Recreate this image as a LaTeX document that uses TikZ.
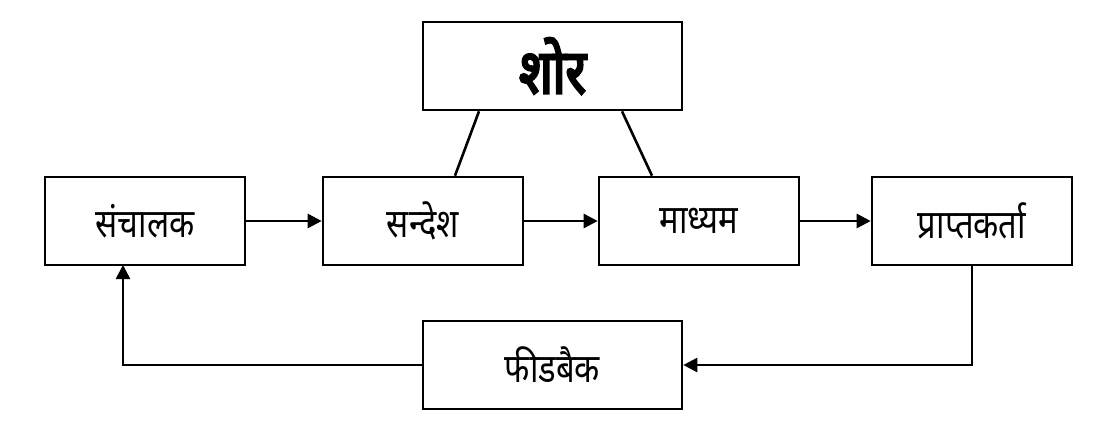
\documentclass[tikz,border=0pt]{standalone}
\usepackage{fontspec}
\newfontfamily\dev[Script=Devanagari,FakeStretch=0.82]{Noto Sans}
\newfontfamily\devb[Script=Devanagari,FakeStretch=0.8,FakeBold=4]{Noto Sans}
\usetikzlibrary{arrows.meta}
\begin{document}
\begin{tikzpicture}[x=1pt,y=-1pt,line width=2.6pt,
  box/.style={draw,minimum width=200pt,minimum height=88pt,inner sep=0pt,font=\dev\fontsize{40}{44}\selectfont},
  arr/.style={-{Triangle[length=14pt,width=14pt]}}]
\useasboundingbox (0,0) rectangle (1099,447);
\node[box,minimum width=259pt,font=\devb\fontsize{62}{64}\selectfont] (shor) at (552.5,66) {शोर};
\node[box] (s) at (145,221) {संचालक};
\node[box] (m) at (423,221) {सन्देश};
\node[box] (ma) at (699,221) {माध्यम};
\node[box] (p) at (972,221) {प्राप्तकर्ता};
\node[box,minimum width=259pt] (f) at (552.5,365) {फीडबैक};
\coordinate (sb) at (123,265);
\draw[arr] (s) -- (m);
\draw[arr] (m) -- (ma);
\draw[arr] (ma) -- (p);
\draw (shor.south -| 479,0) -- (m.north -| 455,0);
\draw (shor.south -| 622,0) -- (ma.north -| 652,0);
\draw[arr] (p.south) |- (f.east);
\draw[arr] (f.west) -| (sb);
\end{tikzpicture}
\end{document}
